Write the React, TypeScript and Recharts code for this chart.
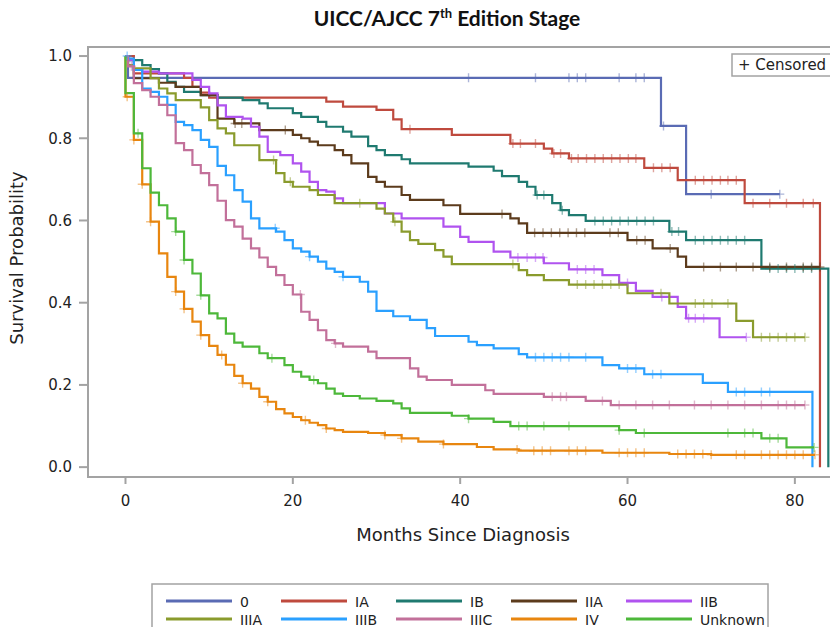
import React from "react";
import { LineChart, Line, XAxis, YAxis, ReferenceArea } from "recharts";

type Step = [number, number];

// ---- series names & colours ----
const stageNames: string[] = ["0", "IA", "IB", "IIA", "IIB", "IIIA", "IIIB", "IIIC", "IV", "Unknown"];
const stageColors: string[] = [
  "#5a6bb4", "#bf4a3e", "#1f7a70", "#5c3b1c", "#b053ef",
  "#8a9b2d", "#2aa0ff", "#c2709a", "#e8860f", "#4db83a",
];

// ---- Kaplan-Meier steps: [month, survival] ----
const steps0: Step[] = [[0, 1], [0.3, 0.947], [64, 0.83], [67, 0.664]];
const censor0: number[] = [41, 49, 53, 54, 55, 59, 61, 62, 64.3, 70, 78.2];

const stepsIA: Step[] = [[0, 1], [1, 0.958], [7, 0.947], [8, 0.925], [9, 0.911], [10, 0.899], [24, 0.889], [26, 0.877], [30, 0.869], [32, 0.846], [33, 0.822], [39, 0.808], [46, 0.787], [50, 0.775], [51, 0.763], [53, 0.751], [62, 0.728], [66, 0.698], [74, 0.642], [83, 0]];
const censorIA: number[] = [34, 46.3, 47.2, 49, 51.2, 52, 53.3, 54.1, 55.1, 56.1, 57.1, 58.1, 59.1, 60.1, 61, 63.1, 64.1, 65.1, 68.1, 69.1, 70.1, 71.1, 72, 73, 75, 77, 79, 81, 82.2];

const stepsIB: Step[] = [[0, 1], [0.3, 0.99], [2, 0.978], [3, 0.968], [4, 0.958], [5, 0.937], [6, 0.925], [7, 0.913], [9, 0.905], [11, 0.899], [14, 0.893], [16, 0.885], [17, 0.873], [20, 0.861], [21, 0.852], [23, 0.84], [24, 0.828], [26, 0.816], [27, 0.804], [29, 0.781], [30, 0.771], [31, 0.759], [33, 0.749], [34, 0.739], [41, 0.731], [44, 0.721], [45, 0.708], [47, 0.694], [48, 0.682], [49, 0.662], [51, 0.642], [52, 0.625], [53, 0.613], [55, 0.599], [65, 0.573], [67, 0.552], [76, 0.483], [84, 0]];
const censorIB: number[] = [49.2, 50, 52.2, 56.1, 57.1, 58.1, 59.1, 60.1, 61.1, 62.1, 63.1, 65.3, 66.1, 68.1, 69.1, 70.1, 71.1, 72, 73, 74, 77, 78, 79, 80, 81, 82];

const stepsIIA: Step[] = [[0, 1], [0.3, 0.976], [1, 0.946], [4, 0.935], [6, 0.925], [9, 0.905], [11, 0.848], [13, 0.836], [16, 0.82], [20, 0.808], [21, 0.8], [22, 0.792], [23, 0.783], [25, 0.771], [26, 0.759], [27, 0.739], [29, 0.706], [30, 0.694], [31, 0.682], [33, 0.662], [34, 0.65], [38, 0.637], [40, 0.616], [46, 0.605], [47, 0.593], [48, 0.57], [60, 0.552], [63, 0.532], [66, 0.512], [67, 0.487]];
const censorIIA: number[] = [13.1, 13.9, 19.1, 45, 48.9, 49.9, 50.9, 51.9, 52.9, 53.9, 54.9, 57.9, 58.9, 61.1, 62.1, 65.1, 69.1, 71.1, 73, 75, 77, 79, 81, 82, 83];

const stepsIIB: Step[] = [[0, 1], [0.3, 0.99], [1, 0.966], [2, 0.962], [4, 0.958], [8, 0.942], [9, 0.925], [10, 0.909], [11, 0.88], [12, 0.852], [14, 0.848], [15, 0.828], [16, 0.804], [17, 0.767], [18.5, 0.759], [20, 0.739], [21, 0.719], [22, 0.694], [23, 0.674], [24, 0.67], [25, 0.654], [26, 0.642], [31, 0.617], [33, 0.605], [38, 0.585], [40, 0.56], [41, 0.548], [44, 0.524], [46, 0.51], [50, 0.496], [53, 0.481], [57, 0.467], [59, 0.448], [61, 0.429], [63, 0.414], [66, 0.39], [67, 0.362], [71, 0.316]];
const censorIIB: number[] = [46.9, 48, 49, 49.9, 54, 55, 56, 60, 64.1, 67.3, 68.1, 69.1, 74.2];

const stepsIIIA: Step[] = [[0, 1], [0.3, 0.978], [1, 0.97], [3, 0.946], [4, 0.921], [5, 0.909], [6, 0.893], [9, 0.875], [10, 0.844], [11, 0.824], [12, 0.812], [13, 0.783], [16, 0.747], [18, 0.715], [19, 0.694], [20, 0.682], [22, 0.674], [23, 0.662], [25, 0.642], [30, 0.629], [31, 0.617], [32, 0.597], [33, 0.573], [34, 0.552], [35, 0.543], [37, 0.528], [38, 0.512], [39, 0.494], [47, 0.479], [48, 0.467], [50, 0.455], [53, 0.444], [60, 0.423], [65, 0.398], [73, 0.356], [75, 0.316]];
const censorIIIA: number[] = [17.7, 19.7, 28, 32.2, 46.3, 54, 55, 56, 57, 58, 59, 64, 68.1, 69.1, 70.1, 72, 76, 77, 78, 79, 80, 81.2];

const stepsIIIB: Step[] = [[0, 1], [0.3, 0.994], [1, 0.966], [2, 0.921], [3, 0.913], [4, 0.901], [5, 0.881], [6, 0.84], [7, 0.832], [8, 0.82], [9, 0.796], [10, 0.779], [11, 0.733], [12, 0.71], [13, 0.674], [14, 0.646], [15, 0.605], [16, 0.581], [18, 0.573], [19, 0.552], [20, 0.532], [21, 0.524], [22, 0.512], [23, 0.5], [24, 0.483], [25, 0.475], [26, 0.463], [28, 0.451], [29, 0.427], [30, 0.38], [32, 0.367], [34, 0.358], [36, 0.338], [37, 0.319], [41, 0.305], [42, 0.297], [44, 0.289], [47, 0.275], [48, 0.267], [57, 0.248], [59, 0.24], [62, 0.226], [69, 0.205], [72, 0.183], [82.1, 0]];
const censorIIIB: number[] = [0.2, 17.9, 22, 26, 49, 50, 51, 52, 53, 55, 60, 61, 63, 64, 73, 74, 76, 77];

const stepsIIIC: Step[] = [[0, 1], [0.3, 0.975], [1, 0.934], [2, 0.917], [3, 0.901], [4, 0.881], [5, 0.856], [6, 0.788], [7, 0.771], [8, 0.735], [9, 0.715], [10, 0.686], [11, 0.648], [12, 0.601], [13, 0.585], [14, 0.556], [15, 0.532], [16, 0.51], [17, 0.487], [18, 0.467], [19, 0.443], [20, 0.42], [21, 0.378], [22, 0.358], [23, 0.333], [24, 0.309], [25, 0.301], [26, 0.293], [29, 0.281], [30, 0.265], [34, 0.24], [35, 0.22], [36, 0.212], [39, 0.2], [43, 0.187], [44, 0.178], [50, 0.171], [55, 0.161], [58, 0.151]];
const censorIIIC: number[] = [0.7, 20.9, 25.1, 51, 52, 52.7, 57, 59, 61, 63, 65, 68, 70, 72, 74, 76, 78, 79, 80, 81.2];

const stepsIV: Step[] = [[0, 1], [0, 0.901], [1, 0.796], [2, 0.688], [3, 0.597], [4, 0.52], [5, 0.463], [6, 0.427], [7, 0.385], [8, 0.354], [9, 0.321], [10, 0.295], [11, 0.273], [12, 0.249], [13, 0.222], [14, 0.204], [15, 0.191], [16, 0.171], [17, 0.159], [18, 0.141], [19, 0.131], [20, 0.122], [21, 0.114], [22, 0.108], [23, 0.102], [24, 0.094], [25, 0.09], [26, 0.086], [29, 0.083], [31, 0.078], [33, 0.07], [35, 0.062], [38, 0.056], [42, 0.049], [44, 0.043], [47, 0.04], [57, 0.035], [65, 0.032], [70, 0.03]];
const censorIV: number[] = [0.2, 1, 2, 3, 6, 7, 9, 11.5, 14, 17, 21.5, 24, 31, 33, 38, 46.8, 48.8, 49.8, 50.8, 53, 54, 55, 59, 60, 61, 62, 66, 67, 68, 69, 70, 73, 74, 76, 77, 78, 79, 80, 81, 82.4];

const stepsUnknown: Step[] = [[0, 1], [0, 0.91], [1, 0.812], [2, 0.727], [3, 0.668], [4, 0.637], [5, 0.605], [6, 0.573], [7, 0.504], [8, 0.471], [9, 0.418], [10, 0.374], [11, 0.362], [12, 0.325], [13, 0.303], [14, 0.293], [16, 0.277], [17, 0.265], [19, 0.248], [20, 0.232], [21, 0.22], [22, 0.212], [23, 0.204], [24, 0.191], [25, 0.179], [26, 0.173], [28, 0.167], [30, 0.161], [32, 0.155], [33, 0.143], [34, 0.132], [39, 0.125], [41, 0.118], [44, 0.11], [46, 0.1], [59, 0.09], [61, 0.083], [76, 0.07], [79, 0.048]];
const censorUnknown: number[] = [1.5, 6, 7, 9, 17.5, 22.5, 41, 47, 48, 50, 53, 59, 62, 72, 74, 75, 77, 78, 82.3];

const seriesSteps: Step[][] = [steps0, stepsIA, stepsIB, stepsIIA, stepsIIB, stepsIIIA, stepsIIIB, stepsIIIC, stepsIV, stepsUnknown];
const seriesCensor: number[][] = [censor0, censorIA, censorIB, censorIIA, censorIIB, censorIIIA, censorIIIB, censorIIIC, censorIV, censorUnknown];

// ---- axes ----
const xTicks: number[] = [0, 20, 40, 60, 80];
const yTicks: number[] = [0, 0.2, 0.4, 0.6, 0.8, 1.0];
const xDomain: [number, number] = [-4.48, 85];
const yDomain: [number, number] = [-0.024, 1.022];

const chartTitle = "UICC/AJCC 7";
const xLabel = "Months Since Diagnosis";
const yLabel = "Survival Probability";
const censorLabel = "+ Censored";

type Pt = { m: number; s: number; c: boolean };

function valueAt(steps: Step[], t: number): number {
  let v = steps[0][1];
  for (const [m, s] of steps) {
    if (m <= t) v = s;
    else break;
  }
  return v;
}

function buildSeries(steps: Step[], censor: number[]): Pt[] {
  const pts: Pt[] = steps.map(([m, s]) => ({ m, s, c: false }));
  censor.forEach((t) => pts.push({ m: t, s: valueAt(steps, t), c: true }));
  return pts
    .map((p, i) => ({ p, i }))
    .sort((a, b) => (a.p.m - b.p.m) || (a.i - b.i))
    .map((o) => o.p);
}

const seriesData: Pt[][] = seriesSteps.map((st, i) => buildSeries(st, seriesCensor[i]));

const FONT = "'DejaVu Sans', Verdana, sans-serif";
const GRAY = "#a3a3a3";

const makeDot = (color: string, sid: number) => (props: any) => {
  const { cx, cy, payload, index } = props;
  if (!payload || !payload.c || cx == null || cy == null) {
    return <g key={`n${sid}-${index}`} />;
  }
  const h = 4.5;
  return (
    <path
      key={`c${sid}-${index}`}
      d={`M${cx - h},${cy}H${cx + h}M${cx},${cy - h}V${cy + h}`}
      stroke={color}
      strokeOpacity={0.5}
      strokeWidth={1.4}
      fill="none"
    />
  );
};

export default function App() {
  return (
    <div
      style={{
        position: "absolute",
        left: 0,
        top: 0,
        width: 830,
        height: 627,
        overflow: "hidden",
        background: "#ffffff",
      }}
    >
      <div style={{ position: "absolute", left: 0, top: 0 }}>
        <LineChart
          width={840}
          height={560}
          margin={{ top: 47, right: 3.3, bottom: 43, left: 0 }}
        >
          <XAxis
            type="number"
            dataKey="m"
            domain={xDomain}
            allowDataOverflow
            ticks={xTicks}
            height={40}
            tickSize={7}
            tickMargin={11}
            axisLine={{ stroke: GRAY, strokeWidth: 2 }}
            tickLine={{ stroke: GRAY, strokeWidth: 2 }}
            tick={{ fontFamily: FONT, fontSize: 15, fill: "#222" }}
          />
          <YAxis
            type="number"
            domain={yDomain}
            allowDataOverflow
            ticks={yTicks}
            width={88}
            tickSize={9}
            tickMargin={7}
            tickFormatter={(v: number) => v.toFixed(1)}
            axisLine={{ stroke: GRAY, strokeWidth: 2 }}
            tickLine={{ stroke: GRAY, strokeWidth: 2 }}
            tick={{ fontFamily: FONT, fontSize: 15, fill: "#222" }}
          />
          <ReferenceArea
            x1={xDomain[0]}
            x2={xDomain[1]}
            y1={yDomain[0]}
            y2={yDomain[1]}
            fill="none"
            stroke={GRAY}
            strokeWidth={2}
            ifOverflow="visible"
          />
          {seriesData.map((d, i) => (
            <Line
              key={stageNames[i]}
              data={d}
              dataKey="s"
              name={stageNames[i]}
              type="stepAfter"
              stroke={stageColors[i]}
              strokeWidth={2.2}
              dot={makeDot(stageColors[i], i)}
              activeDot={false}
              isAnimationActive={false}
            />
          ))}
        </LineChart>
      </div>
      <svg
        width={830}
        height={627}
        style={{ position: "absolute", left: 0, top: 0, pointerEvents: "none" }}
      >
        <text
          x={447}
          y={26}
          textAnchor="middle"
          fontFamily="Lato, 'Open Sans', sans-serif"
          fontWeight={700}
          fontSize={21}
          fill="#111"
        >
          {chartTitle}
          <tspan fontSize={13} dy={-8}>th</tspan>
          <tspan dy={8}> Edition Stage</tspan>
        </text>
        <text
          x={463}
          y={541}
          textAnchor="middle"
          fontFamily={FONT}
          fontSize={18}
          fill="#222"
        >
          {xLabel}
        </text>
        <text
          transform="translate(23,258) rotate(-90)"
          textAnchor="middle"
          fontFamily={FONT}
          fontSize={18}
          fill="#222"
        >
          {yLabel}
        </text>
        <rect x={732} y={54} width={110} height={22} fill="#fff" stroke={GRAY} strokeWidth={1.5} />
        <text x={738} y={70} fontFamily={FONT} fontSize={15} fill="#222">
          {censorLabel}
        </text>
        <rect x={152} y={584} width={616} height={60} fill="#fff" stroke={GRAY} strokeWidth={1.5} />
        {stageNames.map((n, i) => {
          const col = i % 5;
          const row = Math.floor(i / 5);
          const x1 = 166 + 115 * col;
          const y = 601 + 18 * row;
          return (
            <g key={n}>
              <line x1={x1} x2={x1 + 66} y1={y} y2={y} stroke={stageColors[i]} strokeWidth={3} />
              <text x={x1 + 74} y={y + 5.5} fontFamily={FONT} fontSize={14} fill="#222">
                {n}
              </text>
            </g>
          );
        })}
      </svg>
    </div>
  );
}
